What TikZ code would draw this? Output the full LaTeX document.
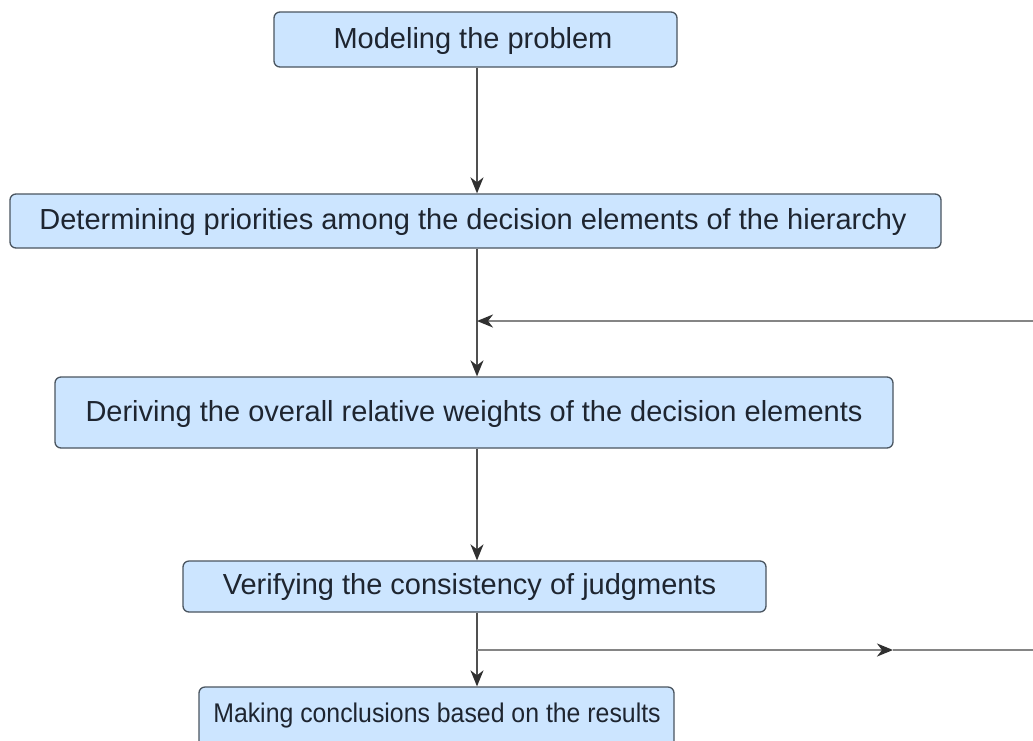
\documentclass[tikz,border=0pt]{standalone}
\usepackage{fontspec}
\setmainfont{Liberation Sans}
\usetikzlibrary{arrows.meta}
\definecolor{boxfill}{HTML}{CCE5FF}
\definecolor{boxline}{HTML}{4A5560}
\definecolor{txt}{HTML}{1E2530}
\definecolor{arr}{HTML}{505050}
\definecolor{arrlight}{HTML}{858585}
\definecolor{tipc}{HTML}{303030}
\begin{document}
\begin{tikzpicture}[x=1pt,y=-1pt,
  box/.style={draw=boxline, fill=boxfill, rounded corners=6pt, line width=1.3pt,
    inner sep=0pt, text=txt, font=\fontsize{29}{34}\selectfont, anchor=center},
  small/.style={font=\fontsize{27}{32}\selectfont, xscale=0.92},
  conn/.style={draw=arr, line width=1.6pt},
  hconn/.style={draw=arrlight, line width=2.2pt},
  tip/.style={-{Stealth[length=16pt,width=13pt,inset=5pt,color=tipc]}}]
\clip (0,0) rectangle (1033,740);
\fill[white] (0,0) rectangle (1033,740);
\node[box, minimum width=403pt, minimum height=55pt] (b1) at (475.5,39.5) {};
\node[box, minimum width=931pt, minimum height=54pt] (b2) at (475.5,221) {};
\node[box, minimum width=838pt, minimum height=71pt] (b3) at (474,412.5) {};
\node[box, minimum width=583pt, minimum height=51pt] (b4) at (474.5,586.5) {};
\node[box, minimum width=475pt, minimum height=60pt] (b5) at (436.5,717) {};
\node[box, draw=none, fill=none] (t1) at (473,41) {Modeling the problem};
\node[box, draw=none, fill=none] (t2) at (473,222) {Determining priorities among the decision elements of the hierarchy};
\node[box, draw=none, fill=none] (t3) at (474,414) {Deriving the overall relative weights of the decision elements};
\node[box, draw=none, fill=none] (t4) at (469.5,587) {Verifying the consistency of judgments};
\node[box, small, draw=none, fill=none] (t5) at (437,716) {Making conclusions based on the results};
\coordinate (s1) at (477,67);
\coordinate (j1) at (477,321);
\coordinate (r1) at (1040,321);
\coordinate (j2) at (477,650);
\coordinate (m2) at (893,650);
\coordinate (r2) at (1040,650);
\draw[conn,tip] (b1.south -| s1) -- (b2.north -| s1);
\draw[conn] (b2.south -| s1) -- (j1);
\draw[conn,tip] (j1) -- (b3.north -| s1);
\draw[hconn,tip] (r1) -- (j1);
\draw[conn,tip] (b3.south -| s1) -- (b4.north -| s1);
\draw[conn] (b4.south -| s1) -- (j2);
\draw[conn,tip] (j2) -- (b5.north -| s1);
\draw[hconn,tip] (j2) -- (m2);
\draw[hconn] (m2) -- (r2);
\end{tikzpicture}
\end{document}
